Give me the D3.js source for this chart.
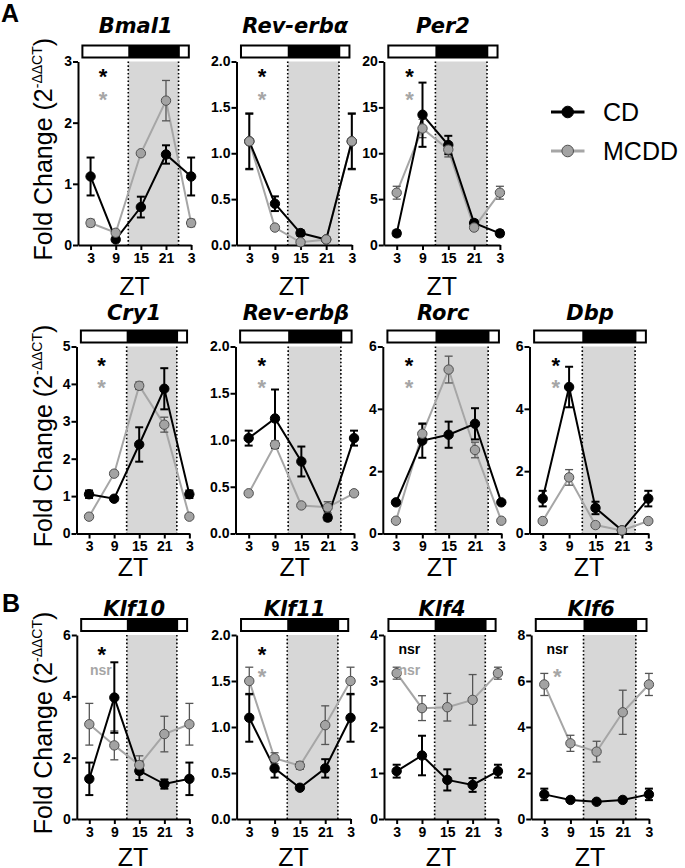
<!DOCTYPE html>
<html><head><meta charset="utf-8">
<script src="https://cdn.jsdelivr.net/npm/d3@7"></script>
<style>body{margin:0;background:#fff}svg{display:block}</style>
</head><body>
<script>
// ---------------- DATA ----------------
const genes = ["Bmal1","Rev-erbα","Per2","Cry1","Rev-erbβ","Rorc","Dbp","Klf10","Klf11","Klf4","Klf6"];
const zt = [3, 9, 15, 21, 27];
const ztTickLabels = ["3","9","15","21","3"];
const yMax  = [3, 2, 20, 5, 2, 6, 6, 6, 2, 4, 8];
const yStep = [1, 0.5, 5, 1, 0.5, 2, 2, 2, 0.5, 1, 2];
const cdMean = [
  [1.12,0.09,0.62,1.48,1.12],
  [1.13,0.45,0.13,0.06,1.13],
  [1.27,14.2,10.9,2.4,1.27],
  [1.05,0.93,2.38,3.87,1.05],
  [1.02,1.23,0.77,0.17,1.02],
  [1.0,2.98,3.17,3.52,1.0],
  [1.12,4.7,0.82,0.1,1.12],
  [1.31,3.96,1.57,1.14,1.31],
  [1.1,0.55,0.34,0.55,1.1],
  [1.04,1.38,0.85,0.74,1.04],
  [1.07,0.83,0.75,0.83,1.07]
];
const cdErr = [
  [0.31,0.03,0.17,0.15,0.31],
  [0.3,0.08,0.03,0.02,0.3],
  [0.3,3.5,1.0,0.3,0.3],
  [0.1,0.05,0.46,0.55,0.1],
  [0.08,0.31,0.16,0.03,0.08],
  [0.05,0.55,0.42,0.5,0.05],
  [0.25,0.65,0.2,0.05,0.25],
  [0.53,1.15,0.3,0.15,0.53],
  [0.26,0.1,0.02,0.1,0.26],
  [0.14,0.43,0.23,0.15,0.14],
  [0.25,0.05,0.05,0.05,0.25]
];
const mcddMean = [
  [0.36,0.2,1.5,2.36,0.36],
  [1.13,0.19,0.03,0.06,1.13],
  [5.7,12.7,10.4,1.9,5.7],
  [0.45,1.6,3.95,2.91,0.45],
  [0.43,0.95,0.3,0.28,0.43],
  [0.41,3.2,5.26,2.68,0.41],
  [0.4,1.8,0.27,0.1,0.4],
  [3.09,2.4,1.76,2.77,3.09],
  [1.5,0.66,0.58,1.02,1.5],
  [3.17,2.41,2.43,2.59,3.17],
  [5.85,3.29,2.93,4.64,5.85]
];
const mcddErr = [
  [0.06,0.03,0.03,0.33,0.06],
  [0.31,0.02,0.01,0.02,0.31],
  [0.7,1.0,0.8,0.3,0.7],
  [0.05,0.05,0.1,0.2,0.05],
  [0.02,0.04,0.02,0.06,0.02],
  [0.05,0.3,0.43,0.25,0.05],
  [0.05,0.25,0.05,0.03,0.05],
  [0.68,0.47,0.3,0.58,0.68],
  [0.15,0.06,0.04,0.21,0.15],
  [0.13,0.27,0.3,0.55,0.13],
  [0.48,0.35,0.45,0.96,0.48]
];
const sigCD   = ["*","*","*","*","*","*","*","*","*","nsr","nsr"];
const sigMCDD = ["*","*","*","*","*","*","*","nsr","*","nsr","*"];
const seriesNames = ["CD","MCDD"];
const panelLetters = ["A","B"];

// ---------------- LAYOUT ----------------
const W = 685, H = 868;
const FONT = "'Liberation Sans', Arial, Helvetica, sans-serif";
const TICKFONT = "'Liberation Sans Narrow', 'Arial Narrow', 'Liberation Sans', Arial, sans-serif";
const TITLEFONT = "'DejaVu Sans', Verdana, sans-serif";
const rows = [
  {top:61.5, bottom:245,   zt:295, title:33,  sig:[9.5,32.5]},
  {top:346.5, bottom:533.5, zt:576, title:320, sig:[13.5,36]},
  {top:635,  bottom:819,   zt:866, title:616, sig:[14.5,36]}
];
const panels = [
  {row:0,x0:78,k:4.19},{row:0,x0:236.5,k:4.27},{row:0,x0:383.8,k:4.3},
  {row:1,x0:76.5,k:4.18},{row:1,x0:235.5,k:4.39},{row:1,x0:382.8,k:4.39},{row:1,x0:529.5,k:4.4},
  {row:2,x0:76.8,k:4.17},{row:2,x0:236.6,k:4.22},{row:2,x0:384,k:4.22},{row:2,x0:531.2,k:4.36}
];
const GRAY = "#a6a6a6", GRAYFILL = "#a3a3a3", GRAYEDGE = "#505050", SHADE = "#d7d7d7";

const svg = d3.select("body").append("svg").attr("width",W).attr("height",H)
  .style("font-family",FONT);

panels.forEach((p,i)=>{
  const r = rows[p.row];
  const x = d3.scaleLinear().domain([0,27]).range([p.x0, p.x0+27*p.k]);
  const y = d3.scaleLinear().domain([0,yMax[i]]).range([r.bottom, r.top]);
  const g = svg.append("g");

  // shading for dark phase
  g.append("rect").attr("x",x(12)).attr("y",r.top).attr("width",x(24)-x(12))
    .attr("height",r.bottom-r.top).attr("fill",SHADE);
  [12,24].forEach(v=>g.append("line").attr("x1",x(v)).attr("x2",x(v))
    .attr("y1",r.top).attr("y2",r.bottom).attr("stroke","#000")
    .attr("stroke-width",1.6).attr("stroke-dasharray","1.6,2.2"));

  // light/dark bar
  const bt = r.top-16, bh = 12;
  g.append("rect").attr("x",x(1.05)).attr("y",bt).attr("width",x(26.45)-x(1.05)).attr("height",bh)
    .attr("fill","#fff").attr("stroke","#000").attr("stroke-width",2);
  g.append("rect").attr("x",x(12)).attr("y",bt).attr("width",x(24.3)-x(12)).attr("height",bh)
    .attr("fill","#000");

  // title
  g.append("text").attr("x",(x(1.05)+x(26.45))/2).attr("y",r.title)
    .attr("text-anchor","middle").attr("font-size",21).attr("font-weight","bold")
    .attr("font-family",TITLEFONT).attr("font-style","italic").text(genes[i]);

  // axes
  const fmt = yStep[i] < 1 ? d3.format(".1f") : d3.format("d");
  const ya = d3.axisLeft(y).tickValues(d3.range(0, yMax[i]+1e-9, yStep[i]))
    .tickFormat(fmt).tickSize(5).tickSizeOuter(0);
  const yg = g.append("g").attr("transform",`translate(${p.x0},0)`).call(ya);
  const xa = d3.axisBottom(x).tickValues(zt).tickFormat((d,j)=>ztTickLabels[j])
    .tickSize(5).tickSizeOuter(0);
  const xg = g.append("g").attr("transform",`translate(0,${r.bottom})`).call(xa);
  [yg,xg].forEach(a=>{
    a.select(".domain").attr("stroke","#000").attr("stroke-width",2);
    a.selectAll(".tick line").attr("stroke","#000").attr("stroke-width",2);
    a.selectAll(".tick text").attr("font-family",TICKFONT).attr("font-weight","bold")
      .attr("font-size",14).attr("fill","#000");
  });
  yg.selectAll(".tick text").attr("x",-6);
  xg.selectAll(".tick text").attr("y",8);

  // ZT label
  g.append("text").attr("x",(p.x0 + p.x0+27*p.k)/2).attr("y",r.zt)
    .attr("text-anchor","middle").attr("font-size",25).text("ZT");

  // series
  const series = [
    {m:mcddMean[i], e:mcddErr[i], line:GRAY, fill:GRAYFILL, edge:GRAYEDGE, eb:"#555", ebw:1.3},
    {m:cdMean[i], e:cdErr[i], line:"#000", fill:"#000", edge:"#000", eb:"#000", ebw:2}
  ];
  const lineGen = d3.line().x((d,j)=>x(zt[j])).y(d=>y(d));
  series.forEach(s=>{
    g.append("path").attr("d",lineGen(s.m)).attr("fill","none")
      .attr("stroke",s.line).attr("stroke-width",2);
  });
  series.forEach(s=>{
    s.m.forEach((v,j)=>{
      const cx = x(zt[j]), e = s.e[j];
      if (y(v-e) - y(v+e) > 2) {
        g.append("line").attr("x1",cx).attr("x2",cx).attr("y1",y(v+e)).attr("y2",y(v-e))
          .attr("stroke",s.eb).attr("stroke-width",s.ebw);
        [v+e, v-e].forEach(t=>g.append("line").attr("x1",cx-4).attr("x2",cx+4)
          .attr("y1",y(t)).attr("y2",y(t)).attr("stroke",s.eb).attr("stroke-width",s.ebw));
      }
    });
  });
  // points: CD first, MCDD on top
  [series[1], series[0]].forEach(s=>{
    g.selectAll(null).data(s.m).enter().append("circle")
      .attr("cx",(d,j)=>x(zt[j])).attr("cy",d=>y(d)).attr("r",4.7)
      .attr("fill",s.fill).attr("stroke",s.edge).attr("stroke-width",1);
  });

  // significance marks
  [[sigCD[i],"#000",r.sig[0]],[sigMCDD[i],GRAY,r.sig[1]]].forEach(([t,c,off])=>{
    const cy = r.top + off;
    if (t === "*") {
      g.append("text").attr("x",x(6)).attr("y",cy+12.5).attr("text-anchor","middle")
        .attr("font-size",22).attr("font-weight","bold").attr("fill",c).text("*");
    } else {
      g.append("text").attr("x",x(6)+(i===7?-1:0)).attr("y",cy+4).attr("text-anchor","middle")
        .attr("font-size",14).attr("font-weight","bold").attr("fill",c).text(t);
    }
  });
});

// y-axis titles
rows.forEach(r=>{
  const cy = (r.top + r.bottom)/2 - 4;
  const t = svg.append("text").attr("transform",`translate(52,${cy}) rotate(-90)`)
    .attr("text-anchor","middle").attr("font-size",25);
  t.append("tspan").text("Fold Change (2");
  t.append("tspan").attr("font-size",14).attr("dy",-10).text("-ΔΔCT");
  t.append("tspan").attr("dy",10).text(")");
});

// panel letters
svg.append("text").attr("x",1).attr("y",22).attr("font-size",25).attr("font-weight","bold").text(panelLetters[0]);
svg.append("text").attr("x",2).attr("y",612).attr("font-size",25).attr("font-weight","bold").text(panelLetters[1]);

// legend
const legend = [
  {name:seriesNames[0], line:"#000", fill:"#000", edge:"#000", y:112},
  {name:seriesNames[1], line:GRAY, fill:GRAYFILL, edge:GRAYEDGE, y:151}
];
legend.forEach(l=>{
  svg.append("line").attr("x1",551).attr("x2",584.5).attr("y1",l.y).attr("y2",l.y)
    .attr("stroke",l.line).attr("stroke-width",3);
  svg.append("circle").attr("cx",567.7).attr("cy",l.y).attr("r",5.8)
    .attr("fill",l.fill).attr("stroke",l.edge).attr("stroke-width",1);
  svg.append("text").attr("x",603).attr("y",l.y+9).attr("font-size",25).text(l.name);
});
</script>
</body></html>
